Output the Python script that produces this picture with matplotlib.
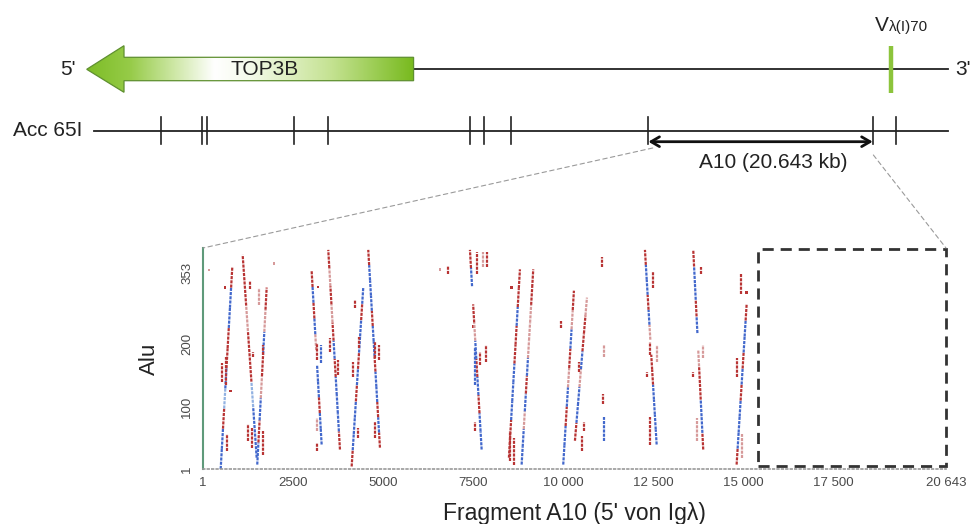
import numpy as np
import matplotlib
matplotlib.use("Agg")
import matplotlib.pyplot as plt
from matplotlib.patches import Polygon, Rectangle, ConnectionPatch
from matplotlib.colors import LinearSegmentedColormap
import matplotlib.transforms as mtransforms

plt.rcParams["font.family"] = ["Liberation Sans", "DejaVu Sans"]

# ---- restriction map of the locus (positions in kb) ----------------------
map_len_kb = 78.6
acc65i_sites = [6.14, 9.96, 10.42, 18.43, 21.56, 34.6, 35.9, 38.4, 51.0, 71.64, 73.8]
top3b_start, top3b_end = 29.4, -0.67      # gene is read towards 5'
vlambda_pos = 73.3
a10_start, a10_end = 51.0, 71.64
a10_label = "A10 (20.643 kb)"

# ---- dot plot: fragment A10 (bp) vs Alu consensus (bp) --------------------
frag_len = 20643
alu_len = 353
xticks = [1, 2500, 5000, 7500, 10000, 12500, 15000, 17500, 20643]
xticklabels = ["1", "2500", "5000", "7500", "10 000", "12 500", "15 000", "17 500", "20 643"]
yticks = [1, 100, 200, 353]
yticklabels = ["1", "100", "200", "353"]

# long hits: x_bottom, y_bottom, x_top, y_top, colours bottom->top ('-' = gap)
streaks = [
    (492, 1, 814, 322, "bbrlbrrbbr"),
    (1492, 19, 1103, 342, "bblrrprr"),
    (1508, 8, 1770, 290, "brbprbpr"),
    (3297, 40, 3020, 316, "bbrbb-pbrbr"),
    (3806, 32, 3481, 350, "rbbbrbrprpr"),
    (4131, 5, 4453, 290, "rbbbrbrbbrb"),
    (4917, 35, 4592, 350, "rbrbbrbbrbbbr"),
    (7742, 32, 7417, 350, "bbrbrbpr-br"),
    (8500, 19, 8806, 319, "rrbbbrrbrr"),
    (8853, 8, 9176, 319, "bbpbrbppprr"),
    (10009, 8, 10306, 285, "bbrbprbpr"),
    (10334, 46, 10668, 274, "rbbpbrrp"),
    (12604, 40, 12279, 350, "bbbbrr-pbrbbr"),
    (13898, 32, 13621, 350, "rbbrrp-brbbr"),
    (14826, 8, 15104, 263, "rbbbrbrbbr"),
]
# short hits: x, y_start, y_end, colour
short_hits = [
    (520, 140, 170, "r"), (639, 135, 179, "r"), (658, 29, 56, "r"),
    (1306, 287, 300, "r"), (1564, 263, 290, "p"), (1398, 180, 188, "r"),
    (1658, 183, 199, "r"), (1259, 45, 72, "r"), (1352, 35, 67, "r"),
    (1676, 24, 61, "r"),
    (4222, 258, 270, "r"), (4334, 194, 212, "r"), (4176, 147, 171, "r"),
    (4778, 178, 204, "r"), (4889, 175, 199, "r"), (3158, 61, 83, "p"),
    (3158, 30, 42, "r"), (3278, 170, 199, "b"), (3528, 188, 210, "r"),
    (3759, 151, 175, "r"), (4315, 51, 67, "r"), (4778, 51, 76, "r"),
    (3158, 175, 202, "r"),
    (6815, 311, 325, "r"),
    (7603, 311, 347, "r"), (7770, 322, 347, "p"), (7898, 322, 347, "r"),
    (7556, 135, 194, "b"), (7695, 167, 188, "r"), (7862, 172, 199, "r"),
    (7556, 61, 76, "r"),
    (8528, 13, 61, "r"), (8648, 8, 51, "r"),
    (10445, 156, 172, "r"), (10593, 61, 76, "r"), (10520, 29, 53, "r"),
    (9945, 226, 236, "r"),
    (11075, 322, 338, "r"), (11140, 180, 199, "p"), (11103, 104, 120, "r"),
    (11140, 45, 84, "b"),
    (12493, 290, 315, "r"), (12418, 183, 204, "r"), (12604, 172, 199, "p"),
    (12418, 40, 84, "r"), (12326, 147, 155, "r"),
    (13826, 311, 322, "r"), (13898, 178, 199, "p"), (13621, 147, 156, "r"),
    (13732, 45, 83, "p"),
    (14946, 279, 311, "r"), (14826, 147, 178, "r"), (14965, 19, 56, "p"),
]
dots_x = [611, 769, 172, 1973, 3195, 6584, 8575, 7509, 15104]
dots_y = [290, 125, 318, 328, 291, 319, 290, 228, 282]
dots_c = ["r", "r", "p", "p", "r", "p", "r", "r", "r"]
unsequenced = (15410, 20643)

colours = {"r": "#b83434", "p": "#d69a9a", "b": "#4268cc", "l": "#92b2e2"}
hit_style = dict(lw=1.6, ls=(0, (1.4, 0.5)), dash_capstyle="butt")

fig = plt.figure(figsize=(9.71, 5.24), dpi=100)

# ------------------------- schematic (top) ------------------------------
ax0 = fig.add_axes([0, 0, 1, 1])
ax0.axis("off")
px_per_kb = 10.87
ax0.set_xlim(-94 / px_per_kb, (971 - 94) / px_per_kb)
ax0.set_ylim(524, 0)

y_gene, y_acc = 69.3, 131

# gene line and TOP3B arrow
ax0.plot([top3b_start, map_len_kb], [y_gene, y_gene], color="#222", lw=1.3)
head = 3.43
arrow_xy = [(top3b_end, y_gene), (top3b_end + head, 45.7), (top3b_end + head, 57.3),
            (top3b_start, 57.3), (top3b_start, 80.7), (top3b_end + head, 80.7),
            (top3b_end + head, 92.3)]
poly = Polygon(arrow_xy, closed=True, facecolor="none", edgecolor="#5f9030", lw=0.9, zorder=3)
ax0.add_patch(poly)
cmap = LinearSegmentedColormap.from_list(
    "gene", [(0, "#7dbd26"), (0.13, "#96cb48"), (0.27, "#cfe8a8"), (0.39, "#ffffff"),
             (0.5, "#f4faea"), (0.75, "#c4e291"), (1.0, "#78ba1e")])
grad = np.linspace(0, 1, 256).reshape(1, -1)
im = ax0.imshow(grad, extent=(top3b_end, top3b_start, 92.3, 45.7), aspect="auto",
                cmap=cmap, zorder=2)
im.set_clip_path(poly)
ax0.text((top3b_end + top3b_start) / 2 + 1.3, y_gene, "TOP3B", fontsize=15,
         ha="center", va="center", color="#222", zorder=4)
ax0.text(-1.66, y_gene, "5'", fontsize=15, ha="right", va="center", color="#222")
ax0.text(79.2, y_gene, "3'", fontsize=15, ha="left", va="center", color="#222")

# V lambda gene
ax0.plot([vlambda_pos, vlambda_pos], [45.7, 93.3], color="#8cc43c", lw=3.2,
         solid_capstyle="butt", zorder=3)
ax0.text(vlambda_pos - 0.15, 31, "V", fontsize=15, ha="right", va="baseline", color="#222")
ax0.text(vlambda_pos - 0.15, 31, "λ(I)70", fontsize=11, ha="left", va="baseline", color="#222")

# Acc65I restriction map
ax0.plot([0, map_len_kb], [y_acc, y_acc], color="#222", lw=1.3)
for s in acc65i_sites:
    ax0.plot([s, s], [117, 144], color="#222", lw=1.2)
ax0.text(-1.1, y_acc, "Acc 65I", fontsize=15, ha="right", va="center", color="#222")

ax0.annotate("", xy=(a10_start, 141.7), xytext=(a10_end, 141.7),
             arrowprops=dict(arrowstyle="<->,head_length=0.6,head_width=0.35",
                             lw=2, color="#111", shrinkA=0, shrinkB=0))
ax0.text((a10_start + a10_end) / 2 + 1.2, 162, a10_label, fontsize=15,
         ha="center", va="center", color="#222")

# ------------------------- dot plot (bottom) -----------------------------
ax1 = fig.add_axes([203 / 971, (524 - 469) / 524, 743 / 971, 221 / 524])
ax1.set_facecolor("none")
ax1.set_xlim(1, frag_len)
ax1.set_ylim(1, alu_len)

for xb, yb, xt, yt, pat in streaks:
    n = len(pat)
    fr = np.linspace(0, 1, n + 1)
    for i, c in enumerate(pat):
        if c == "-":
            continue
        xs = [xb + (xt - xb) * fr[i], xb + (xt - xb) * fr[i + 1]]
        ys = [yb + (yt - yb) * fr[i], yb + (yt - yb) * fr[i + 1]]
        ax1.plot(xs, ys, color=colours[c], **hit_style)

for x, y0, y1, c in short_hits:
    ax1.plot([x, x], [y0, y1], color=colours[c], **hit_style)

ax1.scatter(dots_x, dots_y, s=3, c=[colours[c] for c in dots_c], marker="s", lw=0)

rect = Rectangle((unsequenced[0], 6), unsequenced[1] - unsequenced[0], alu_len - 7,
                 fill=False, ls=(0, (4, 2.5)), lw=2, edgecolor="#333", clip_on=False)
ax1.add_patch(rect)

ax1.set_xticks(xticks)
ax1.set_xticklabels(xticklabels)
ax1.set_yticks(yticks)
ax1.set_yticklabels(yticklabels, rotation=90, va="center")
ax1.tick_params(length=0, labelsize=9.5, colors="#4a4a4a")
ax1.tick_params(axis="x", pad=6)
ax1.tick_params(axis="y", pad=7)
for sp in ("top", "right"):
    ax1.spines[sp].set_visible(False)
ax1.spines["left"].set_color("#5f9a7a")
ax1.spines["left"].set_linewidth(1.5)
ax1.spines["bottom"].set_color("#999")
ax1.spines["bottom"].set_linestyle(":")
ax1.spines["bottom"].set_linewidth(1.2)

# move the top y label slightly down, as in the original figure
lab = ax1.yaxis.get_major_ticks()[-1].label1
lab.set_transform(lab.get_transform() +
                  mtransforms.ScaledTranslation(0, -0.25, fig.dpi_scale_trans))

ax1.set_ylabel("Alu", fontsize=16, color="#222", labelpad=15)
ax1.set_xlabel("Fragment A10 (5' von Igλ)", fontsize=16.5, color="#222", labelpad=9)

# dashed zoom lines from the A10 fragment to the dot plot
for xa, ya, corner in [(51.4, 148, (0, 1)), (71.7, 155, (1, 1))]:
    con = ConnectionPatch(xyA=(xa, ya), coordsA=ax0.transData,
                          xyB=corner, coordsB=ax1.transAxes,
                          color="#9a9a9a", lw=0.8, ls=(0, (4, 3)))
    fig.add_artist(con)

fig.savefig("out.png", dpi=100)
